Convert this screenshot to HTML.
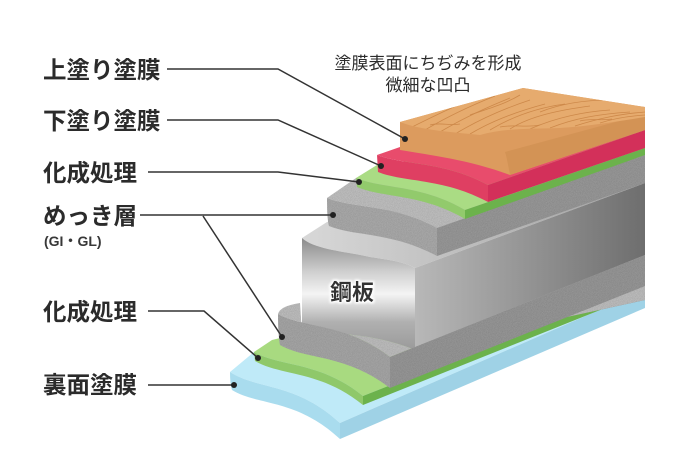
<!DOCTYPE html>
<html><head><meta charset="utf-8"><style>
html,body{margin:0;padding:0;background:#fff;}
svg{display:block;}
text{font-family:"Liberation Sans","Noto Sans CJK JP",sans-serif;fill:#2b2b2b;}
</style></head><body>
<svg width="690" height="450" viewBox="0 0 690 450" xmlns="http://www.w3.org/2000/svg">
<defs>
<filter id="noise" x="0" y="0" width="100%" height="100%">
<feTurbulence type="fractalNoise" baseFrequency="1.2" numOctaves="2" result="n"/>
<feColorMatrix in="n" type="matrix" values="0 0 0 0 0  0 0 0 0 0  0 0 0 0 0  0 0 0 0.35 0" result="na"/>
<feComposite in="na" in2="SourceGraphic" operator="in" result="nc"/>
<feMerge><feMergeNode in="SourceGraphic"/><feMergeNode in="nc"/></feMerge>
</filter>
<linearGradient id="stF" x1="0" y1="0" x2="0" y2="1">
<stop offset="0" stop-color="#8a8a8a"/><stop offset="0.3" stop-color="#cfcfcf"/><stop offset="0.5" stop-color="#f4f4f4"/><stop offset="0.75" stop-color="#b0b0b0"/><stop offset="1" stop-color="#9a9a9a"/>
</linearGradient>
<linearGradient id="stS" x1="0" y1="0" x2="1" y2="0">
<stop offset="0" stop-color="#b8b8b8"/><stop offset="1" stop-color="#6e6e6e"/>
</linearGradient>
<linearGradient id="stT" x1="0" y1="0" x2="1" y2="0">
<stop offset="0" stop-color="#d8d8d8"/><stop offset="1" stop-color="#a0a0a0"/>
</linearGradient>
<clipPath id="wood"><path d="M400,122 L523,88 L645,107 L645,117 C620,121 590,126 560,128 C530,129 505,128 480,135 C450,132 420,130 400,122Z"/></clipPath>
<filter id="glow"><feMorphology operator="dilate" radius="1.5" in="SourceAlpha" result="d"/><feFlood flood-color="#fff"/><feComposite in2="d" operator="in" result="w"/><feGaussianBlur in="w" stdDeviation="1" result="b"/><feMerge><feMergeNode in="b"/><feMergeNode in="SourceGraphic"/></feMerge></filter>
</defs>

<!-- Blue -->
<path d="M230,372 L254,352 L645,285 L645,290 L340,423 C296,382.2 257.5,389.9 230,372Z" fill="#bfeaf8"/>
<path d="M340,423 L645,290 L645,308 L340,439Z" fill="#9fd2e6"/>
<path d="M230,372 C257.5,389.9 296,382.2 340,423 L340,439 C296,398.2 257.5,405.9 232,390 Q230,384 230,372Z" fill="#a9dcee"/>

<!-- Green low -->
<path d="M254,352 L272,340 L280,338 L645,255 L645,285 L363,396 C319.4,360.8 281.3,367.4 254,352Z" fill="#a8da80"/>
<path d="M363,396 L645,285 L645,292 L363,405Z" fill="#6cb24c"/>
<path d="M254,352 C281.3,367.4 319.4,360.8 363,396 L363,405 C319.4,369.8 281.3,376.4 255,361Z" fill="#8fc86a"/>

<!-- Steel -->
<path d="M302,238 L327,222 L645,155 L645,183 L415,268 C405,262 390,260 370,257 C350,252 315,250 302,238Z" fill="url(#stT)"/>
<path d="M415,268 L645,183 L645,300 L415,350Z" fill="url(#stS)"/>
<path d="M302,238 C315,250 350,252 370,257 C390,260 405,262 415,268 L415,350 C390,340 350,330 302,335Z" fill="url(#stF)"/>

<!-- Gray low -->
<g filter="url(#noise)">
<path d="M278,314 Q280,306 300,303 L302,335 C350,330 390,340 415,350 L645,300 L645,255 L390,357 C345.2,322.6 306,329 278,314Z" fill="#c4c4c4"/>
<path d="M278,314 C306,329 345.2,322.6 390,357 L390,388 C345.2,353.6 306,360 280,345 Q278,335 278,314Z" fill="#acacac"/>
<path d="M390,357 L645,255 L645,286 L390,388Z" fill="#9c9c9c"/>
</g>
<text x="352" y="300" font-size="22" font-weight="bold" text-anchor="middle" filter="url(#glow)" style="fill:#333">鋼板</text>

<!-- Gray up -->
<g filter="url(#noise)">
<path d="M327,198 L356,178 L645,148 L645,155 L437,228 C393,204 354.5,208.5 327,198Z" fill="#c6c6c6"/>
<path d="M437,228 L645,155 L645,183 L437,256Z" fill="#9e9e9e"/>
<path d="M327,198 C354.5,208.5 393,204 437,228 L437,256 C393,232 354.5,236.5 329,226 Q327,220 327,198Z" fill="#b0b0b0"/>
</g>

<!-- Green up -->
<path d="M356,178 L377,165 L645,130 L645,148 L465,210 C421.4,184.4 383.3,189.2 356,178Z" fill="#aadc84"/>
<path d="M465,210 L645,148 L645,155 L465,219Z" fill="#6cb24c"/>
<path d="M356,178 C383.3,189.2 421.4,184.4 465,210 L465,219 C421.4,193.4 383.3,198.2 357,187Z" fill="#92ca6c"/>

<!-- Red -->
<path d="M377,155 L400,147 L645,107 L645,130 L488,185 C443.6,161 404.8,165.5 377,155Z" fill="#e84c6c"/>
<path d="M488,185 L645,130 L645,148 L488,202Z" fill="#d3305a"/>
<path d="M377,155 C404.8,165.5 443.6,161 488,185 L488,202 C443.6,178 404.8,182.5 378,172Z" fill="#df3f62"/>

<!-- Orange -->
<path d="M400,122 L400,150 C430,155 470,160 510,175 L645,130 L645,107 L523,88Z" fill="#dc9b5e"/>
<path d="M505,152 L645,114 L645,130 L510,175 C508,165 507,158 505,152Z" fill="#d39355"/>
<path d="M400,122 L523,88 L645,107 L645,117 C620,121 590,126 560,128 C530,129 505,128 480,135 C450,132 420,130 400,122Z" fill="#e6ab6e"/>
<g clip-path="url(#wood)" stroke="#c47d3e" stroke-width="0.8" fill="none" opacity="0.75">
<path d="M410,128 C430,118 450,108 470,100"/><path d="M425,130 C445,118 470,106 495,96"/>
<path d="M440,132 C460,120 480,110 510,98"/><path d="M455,134 C475,122 500,110 530,100"/>
<path d="M470,134 C490,122 515,112 545,104"/><path d="M490,130 C510,118 535,108 565,104"/>
<path d="M510,129 C530,116 560,110 590,106"/><path d="M530,129 C555,118 580,112 610,110"/>
<path d="M550,128 C575,118 600,114 630,112"/><path d="M575,126 C600,118 620,114 645,112"/>
<path d="M600,123 C615,118 630,116 645,115"/><path d="M430,125 C440,122 450,126 460,124"/>
<path d="M500,127 C515,124 525,128 540,125"/><path d="M580,121 C590,118 600,121 612,119"/>
<path d="M470,115 C490,108 505,104 520,95"/><path d="M540,112 C560,104 585,100 610,100"/>
</g>

<!-- leader lines -->
<g stroke="#333" stroke-width="1.5" fill="none">
<polyline points="167,69 278,69 405,139"/>
<polyline points="167,120 278,120 381,166"/>
<polyline points="148,172 278,172 359,182"/>
<polyline points="140,215 333,215"/>
<polyline points="203,216 282,337"/>
<polyline points="148,311 204,311 258,358"/>
<polyline points="148,385 234,385"/>
</g>
<g fill="#222">
<circle cx="405" cy="139" r="3"/><circle cx="381" cy="166" r="3"/><circle cx="359" cy="182" r="3"/>
<circle cx="333" cy="215" r="3"/><circle cx="282" cy="337" r="3"/><circle cx="258" cy="358" r="3"/>
<circle cx="234" cy="385" r="3"/>
</g>

<!-- labels -->
<g font-size="23.5" font-weight="bold" style="fill:#383838">
<text x="43" y="78">上塗り塗膜</text>
<text x="43" y="129">下塗り塗膜</text>
<text x="43" y="181">化成処理</text>
<text x="43" y="224">めっき層</text>
<text x="43" y="320">化成処理</text>
<text x="43" y="393">裏面塗膜</text>
</g>
<text x="44" y="246" font-size="14" font-weight="bold" style="fill:#383838">(GI・GL)</text>
<text x="428" y="69" font-size="17" text-anchor="middle">塗膜表面にちぢみを形成</text>
<text x="428" y="91" font-size="17" text-anchor="middle">微細な凹凸</text>
</svg>
</body></html>
